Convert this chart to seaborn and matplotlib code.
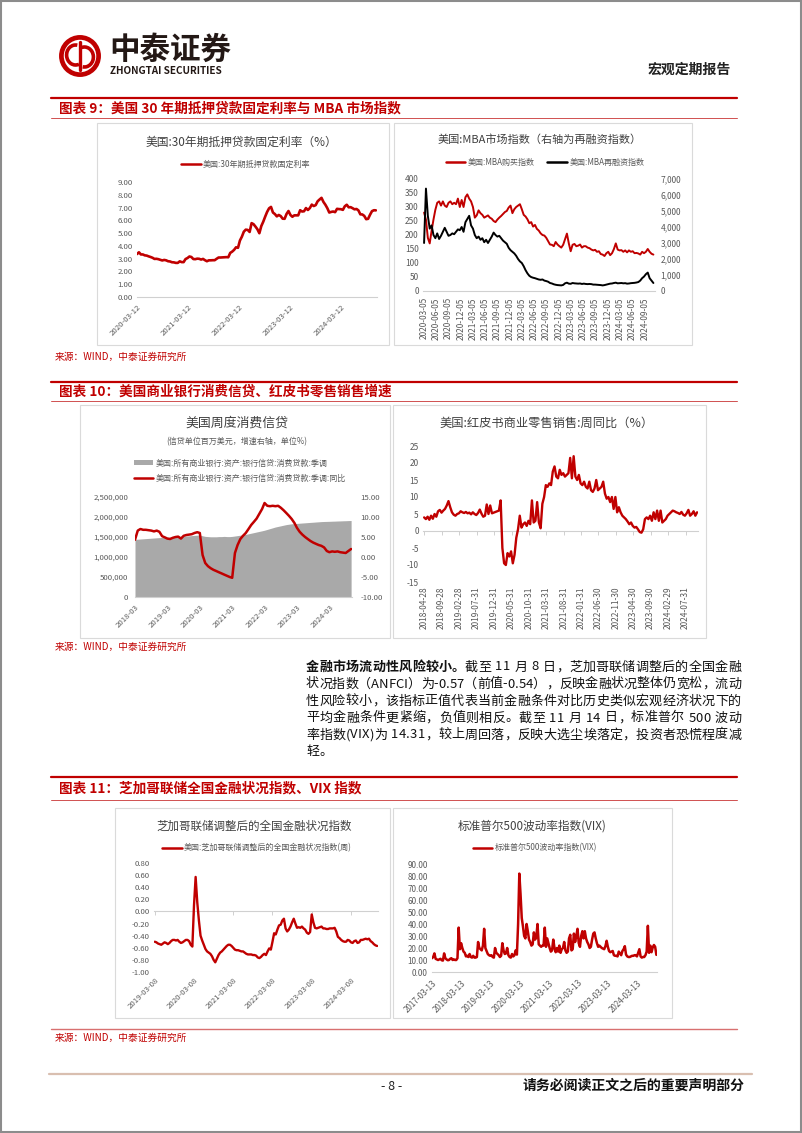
import numpy as np
import pandas as pd
import matplotlib
matplotlib.use("Agg")
import matplotlib.pyplot as plt
import seaborn as sns
from matplotlib.patches import Rectangle, Circle, Arc, Patch
from matplotlib.lines import Line2D
from matplotlib.ticker import FuncFormatter

# ---------------- data ----------------
# Chart 9a: US 30y fixed mortgage rate (biweekly, 2020-03-12 .. 2024-11-14)
mort_rate = [
    3.36, 3.50, 3.33, 3.33, 3.26, 3.24, 3.18, 3.13, 3.07, 2.98, 2.99, 2.96, 2.91, 2.86, 2.90, 2.87, 2.80, 2.78, 2.72, 2.71, 2.67, 2.67,
    2.79, 2.73, 2.73, 2.97, 3.05, 3.17, 3.13, 2.97, 2.96, 3.00, 2.99, 2.93, 2.98, 2.88, 2.80, 2.87, 2.87, 2.88, 2.88, 2.99, 3.09, 3.09, 3.10, 3.11, 3.12, 3.11,
    3.45, 3.55, 3.69, 3.89, 3.85, 4.42, 4.72, 5.11, 5.27, 5.25, 5.09, 5.78, 5.70, 5.51, 5.30, 4.99, 5.55, 5.89, 6.29, 6.66, 6.94, 7.05, 6.61, 6.49, 6.31, 6.42,
    6.33, 6.13, 6.12, 6.50, 6.73, 6.42, 6.28, 6.39, 6.39, 6.39, 6.79, 6.69, 6.71, 6.96, 6.81, 6.96, 7.23, 7.12, 7.19, 7.49, 7.63, 7.76, 7.44, 7.22, 6.95, 6.61,
    6.66, 6.69, 6.64, 6.90, 6.88, 6.87, 6.82, 7.10, 7.22, 7.02, 7.03, 6.95, 6.86, 6.89, 6.78, 6.47, 6.46, 6.35, 6.09, 6.12, 6.44, 6.72, 6.79, 6.78,
]
mort_ticks = ["2020-03-12", "2021-03-12", "2022-03-12", "2023-03-12", "2024-03-12"]

# Chart 9b: MBA purchase (left) / refinance (right), biweekly 2020-03-06 .. 2024-11-08
mba_purchase = [
    280, 255, 190, 170, 215, 255, 290, 315, 320, 305, 320, 305, 300, 315, 320, 310, 315, 310, 330, 300, 325, 300,
    335, 345, 330, 320, 300, 262, 270, 288, 278, 272, 262, 266, 270, 262, 258, 250, 246, 255, 262, 268, 275, 282, 286, 298, 305, 278,
    292, 300, 305, 310, 292, 272, 266, 256, 242, 246, 230, 236, 222, 216, 206, 200, 198, 190, 178, 166, 165, 160, 175, 166, 160, 155,
    165, 185, 205, 170, 142, 165, 168, 160, 162, 166, 155, 160, 160, 155, 153, 148, 145, 147, 140, 142, 132, 130, 125, 135, 140, 128,
    135, 150, 170, 148, 145, 146, 140, 145, 138, 145, 140, 142, 135, 136, 134, 130, 140, 135, 140, 150, 140, 133, 130,
]
mba_refi = [
    3000, 6400, 4700, 3900, 4100, 3500, 3300, 3600, 3250, 3450, 3700, 3950, 3700, 3450, 3500, 3600, 3550, 3700, 3850, 3800, 4000, 3700,
    4300, 4500, 4700, 4100, 3900, 3500, 3300, 3400, 3200, 3300, 3050, 3200, 3000, 3200, 3400, 3650, 3500, 3400, 3450, 3300, 3150, 3050, 2950, 2700, 2550, 2450,
    2350, 2200, 2000, 1850, 1750, 1550, 1300, 1100, 950, 870, 830, 800, 760, 720, 700, 720, 650, 620, 580, 500, 470, 420, 390, 370, 360, 350,
    380, 480, 520, 460, 450, 500, 480, 470, 460, 470, 440, 460, 440, 430, 440, 430, 400, 400, 390, 380, 370, 350, 370, 400, 430, 460,
    470, 500, 520, 480, 490, 500, 480, 490, 460, 470, 490, 500, 510, 530, 560, 650, 800, 900, 1050, 1150, 800, 650, 500,
]
mba_ticks = ["2020-03-05", "2020-06-05", "2020-09-05", "2020-12-05", "2021-03-05", "2021-06-05", "2021-09-05",
             "2021-12-05", "2022-03-05", "2022-06-05", "2022-09-05", "2022-12-05", "2023-03-05", "2023-06-05",
             "2023-09-05", "2023-12-05", "2024-03-05", "2024-06-05", "2024-09-05"]

# Chart 10a: weekly consumer credit (monthly samples 2018-03 .. 2024-11)
credit_level = [
    1440000, 1445000, 1450000, 1455000, 1460000, 1465000, 1470000, 1475000, 1480000, 1485000,
    1488000, 1490000, 1492000, 1495000, 1500000, 1505000, 1510000, 1515000, 1520000, 1525000, 1530000, 1535000,
    1540000, 1545000, 1550000, 1530000, 1515000, 1510000, 1505000, 1505000, 1505000, 1510000, 1510000, 1515000,
    1510000, 1510000, 1515000, 1525000, 1535000, 1545000, 1555000, 1565000, 1580000, 1595000, 1610000, 1625000,
    1640000, 1655000, 1670000, 1690000, 1710000, 1730000, 1750000, 1765000, 1780000, 1795000, 1810000, 1820000,
    1830000, 1835000, 1840000, 1845000, 1850000, 1855000, 1860000, 1865000, 1870000, 1875000, 1880000, 1885000,
    1888000, 1890000, 1892000, 1895000, 1897000, 1900000, 1902000, 1905000, 1907000, 1910000, 1912000,
]
credit_yoy = [
    4.3, 6.6, 7.0, 6.8, 6.8, 6.7, 6.6, 6.4, 6.6, 6.3,
    5.2, 4.9, 4.6, 4.5, 4.8, 5.0, 5.1, 4.6, 5.3, 5.5, 5.6, 5.7,
    6.0, 6.2, 6.0, 0.5, -1.5, -2.3, -2.8, -3.2, -3.5, -3.8, -4.1, -4.4,
    -4.7, -5.0, -5.2, 1.0, 3.0, 4.5, 5.3, 6.0, 7.0, 8.0, 8.8, 9.6,
    10.8, 12.0, 13.5, 12.8, 12.7, 12.8, 12.7, 12.8, 12.3, 11.7, 11.0, 10.3,
    9.5, 8.5, 7.3, 6.3, 5.6, 5.0, 4.5, 4.0, 3.6, 3.3, 3.0, 2.8,
    2.4, 1.5, 1.2, 1.4, 1.3, 1.4, 1.2, 1.1, 1.0, 1.5, 2.0,
]
credit_ticks = ["2018-03", "2019-03", "2020-03", "2021-03", "2022-03", "2023-03", "2024-03"]

# Chart 10b: Redbook same-store sales YoY (semi-monthly 2018-04-28 .. 2024-11-09)
redbook = [
    4.0, 3.5, 4.2, 3.3, 4.5, 3.6, 5.0, 4.2, 5.8, 6.2, 5.4, 6.0, 6.5, 7.5, 8.8, 7.0,
    5.5, 4.8, 4.5, 5.0, 5.2, 5.8, 5.5, 5.3, 5.6, 5.2, 5.4, 4.9, 5.5, 5.0, 4.7, 5.3, 6.3, 5.1, 4.2, 4.5, 7.8, 5.0, 7.5, 5.2,
    5.4, 5.6, 5.8, 6.0, 9.0, -5.0, -9.5, -10.0, -6.5, -7.5, -6.0, -9.5, -7.0, -2.0, 0.5, 4.5, 1.0, 2.0, 2.5, 1.5, 3.0, 2.0, 9.0, 2.5,
    3.0, 8.5, 2.5, 0.8, 8.0, 10.0, 13.5, 13.0, 14.0, 13.5, 17.5, 19.0, 16.0, 15.5, 18.0, 16.5, 17.0, 16.0, 16.5, 17.0, 21.5, 15.5, 22.0, 16.0,
    15.0, 16.5, 14.0, 13.5, 14.5, 13.0, 12.5, 14.5, 12.0, 11.5, 12.5, 15.0, 12.0, 12.5, 13.0, 14.5, 11.0, 9.5, 10.0, 8.5, 10.0, 6.5, 10.0, 5.5,
    7.0, 5.5, 4.5, 4.0, 3.5, 2.8, 2.0, 2.5, 1.5, 1.0, 1.2, 0.5, -0.3, -0.5, 0.5, 3.5, 4.0, 3.5, 4.5, 3.0, 5.5, 3.5, 6.0, 3.0,
    6.0, 2.5, 3.0, 3.5, 4.5, 5.0, 5.5, 6.0, 5.8, 5.5, 5.3, 5.0, 5.6, 4.8, 4.5, 5.2, 6.2, 4.5, 5.0, 5.8, 4.5, 5.5,
]
redbook_ticks = ["2018-04-28", "2018-09-28", "2019-02-28", "2019-07-31", "2019-12-31", "2020-05-31", "2020-10-31",
                 "2021-03-31", "2021-08-31", "2022-01-31", "2022-06-30", "2022-11-30", "2023-04-30", "2023-09-30",
                 "2024-02-29", "2024-07-31"]

# Chart 11a: ANFCI (semi-monthly 2019-03-08 .. 2024-11-08)
anfci = [
    -0.50, -0.51, -0.53, -0.54, -0.55, -0.53, -0.51, -0.52, -0.54, -0.52, -0.49, -0.47, -0.47, -0.48, -0.47, -0.50, -0.52, -0.51, -0.49, -0.47,
    -0.47, -0.49, -0.55, -0.58, 0.10, 0.57, 0.15, -0.15, -0.40, -0.48, -0.55, -0.62, -0.66, -0.68, -0.70, -0.74, -0.80, -0.84, -0.78, -0.72, -0.68, -0.66, -0.63, -0.60,
    -0.57, -0.55, -0.55, -0.57, -0.60, -0.63, -0.64, -0.64, -0.65, -0.66, -0.66, -0.68, -0.70, -0.71, -0.71, -0.71, -0.72, -0.72, -0.73, -0.76, -0.77, -0.75, -0.72, -0.70,
    -0.72, -0.66, -0.61, -0.63, -0.50, -0.36, -0.38, -0.30, -0.23, -0.22, -0.15, -0.12, -0.28, -0.33, -0.30, -0.25, -0.18, -0.12, -0.20, -0.27, -0.26, -0.27, -0.25, -0.28,
    -0.30, -0.35, -0.37, -0.34, -0.05, -0.18, -0.27, -0.28, -0.27, -0.26, -0.25, -0.28, -0.28, -0.29, -0.29, -0.28, -0.28, -0.28, -0.27, -0.33, -0.42, -0.44, -0.47, -0.49,
    -0.50, -0.50, -0.47, -0.48, -0.51, -0.52, -0.49, -0.48, -0.52, -0.51, -0.47, -0.47, -0.46, -0.45, -0.46, -0.45, -0.49, -0.51, -0.54, -0.56, -0.57,
]
anfci_ticks = ["2019-03-08", "2020-03-08", "2021-03-08", "2022-03-08", "2023-03-08", "2024-03-08"]

# Chart 11b: VIX (semi-monthly 2017-03-13 .. 2024-11-14)
vix = [
    11.5, 12.5, 15.5, 11.0, 10.5, 10.0, 10.5, 11.0, 9.8, 9.5, 15.5, 11.5, 10.5, 9.8, 10.0, 11.0, 11.5, 10.0, 10.5, 10.0,
    10.0, 11.5, 37.0, 19.0, 24.0, 20.0, 17.0, 16.0, 13.0, 13.5, 12.5, 15.0, 12.5, 12.0, 13.5, 12.0, 12.0, 12.5, 25.0, 20.0, 19.0, 18.0, 22.0, 36.0,
    20.0, 17.5, 15.0, 14.0, 13.5, 14.0, 12.5, 12.0, 20.0, 16.0, 15.0, 14.0, 12.5, 13.5, 24.0, 18.0, 15.0, 15.5, 20.0, 14.0, 12.5, 12.0, 15.0, 13.0,
    14.0, 18.0, 14.5, 40.0, 82.0, 65.0, 45.0, 38.0, 30.0, 28.0, 40.0, 34.0, 27.0, 25.0, 22.0, 23.0, 33.0, 27.0, 29.0, 40.0, 23.0, 22.0, 21.0, 22.0,
    22.0, 37.0, 21.0, 28.0, 24.0, 20.0, 17.0, 18.0, 27.0, 20.0, 16.5, 20.0, 17.0, 22.0, 16.0, 19.0, 20.0, 25.0, 18.0, 16.0, 17.0, 28.0, 31.0, 18.0,
    19.0, 32.0, 25.0, 30.0, 36.0, 24.0, 21.0, 30.0, 34.0, 28.0, 34.0, 28.0, 25.0, 23.0, 20.0, 21.0, 27.0, 32.0, 33.0, 28.0, 24.0, 21.0, 22.0, 21.0,
    20.0, 19.5, 19.0, 21.5, 26.0, 21.0, 17.5, 16.5, 17.0, 17.5, 14.0, 13.5, 13.5, 13.0, 17.0, 15.5, 14.0, 17.5, 19.0, 21.5, 14.5, 13.0, 12.5, 12.5,
    13.0, 13.5, 13.5, 14.0, 14.0, 13.0, 16.0, 19.0, 13.0, 12.0, 12.5, 12.5, 14.0, 17.0, 38.5, 16.0, 22.0, 16.5, 20.5, 22.5, 21.0, 14.3,
]
vix_ticks = ["2017-03-13", "2018-03-13", "2019-03-13", "2020-03-13", "2021-03-13", "2022-03-13", "2023-03-13", "2024-03-13"]

para_lines = [
    "金融市场流动性风险较小。截至 11 月 8 日，芝加哥联储调整后的全国金融",
    "状况指数（ANFCI）为-0.57（前值-0.54），反映金融状况整体仍宽松，流动",
    "性风险较小，该指标正值代表当前金融条件对比历史类似宏观经济状况下的",
    "平均金融条件更紧缩，负值则相反。截至 11 月 14 日，标准普尔 500 波动",
    "率指数(VIX)为 14.31，较上周回落，反映大选尘埃落定，投资者恐慌程度减",
    "轻。",
]

# ---------------- style ----------------
sns.set_theme(style="white")
plt.rcParams["font.family"] = ["Noto Sans CJK SC", "DejaVu Sans"]
plt.rcParams["axes.unicode_minus"] = False

RED = "#C00000"
GRAYAREA = "#A9A9A9"
AXLINE = "#D0D0D0"
TICK = "#595959"
TITLE = "#404040"

W, H = 802, 1133
fig = plt.figure(figsize=(W / 100, H / 100), dpi=100)
fig.patch.set_facecolor("white")


def fx(x):
    return x / W


def fy(y):
    return 1 - y / H


def add_ax(x0, y0, x1, y1):
    return fig.add_axes([fx(x0), fy(y1), (x1 - x0) / W, (y1 - y0) / H])


def hline(y, x0, x1, color, lw):
    fig.add_artist(Line2D([fx(x0), fx(x1)], [fy(y), fy(y)], transform=fig.transFigure, color=color, lw=lw))


def panel(x0, y0, x1, y1):
    fig.add_artist(Rectangle((fx(x0), fy(y1)), (x1 - x0) / W, (y1 - y0) / H, transform=fig.transFigure,
                             fill=False, ec="#DADADA", lw=0.8))


def ftext(x, y, s, **kw):
    return fig.text(fx(x), fy(y), s, **kw)


def style_ax(ax, size):
    for s in ["top", "right", "left"]:
        ax.spines[s].set_visible(False)
    ax.spines["bottom"].set_color(AXLINE)
    ax.spines["bottom"].set_linewidth(0.8)
    ax.tick_params(axis="y", length=0, labelsize=size, labelcolor=TICK, pad=3)
    ax.tick_params(axis="x", length=3, width=0.7, color=AXLINE, labelsize=size, labelcolor=TICK, pad=1.5)
    ax.set_facecolor("none")
    ax.set_xlabel("")
    ax.set_ylabel("")
    ax.grid(False)


def zero_axis(ax, ticks, frac):
    """Axis line with tick marks at y = 0 while the labels stay at the bottom."""
    ax.spines["bottom"].set_visible(False)
    ax.tick_params(axis="x", length=0, pad=3)
    sec = ax.secondary_xaxis(frac)
    sec.set_xticks(ticks)
    sec.tick_params(axis="x", labelbottom=False, labeltop=False, length=3, width=0.7, color=AXLINE,
                    direction="in" if frac > 0.5 else "out")
    for sp in sec.spines.values():
        sp.set_color(AXLINE)
        sp.set_linewidth(0.8)


def legend(ax, handles, labels, cx, cy, ncol=1, size=5.8, spacing=0.5):
    ax.legend(handles, labels, loc="center", bbox_to_anchor=(fx(cx), fy(cy)), bbox_transform=fig.transFigure,
              frameon=False, fontsize=size, handlelength=2.4, handletextpad=0.3, labelcolor=TICK, ncol=ncol,
              columnspacing=1.6, borderpad=0, labelspacing=spacing)


def _clean(v):
    return 0.0 if abs(v) < 1e-9 else v


fmt2 = FuncFormatter(lambda v, p: f"{_clean(v):.2f}")
fmt0 = FuncFormatter(lambda v, p: f"{_clean(v):.0f}")
fmtc = FuncFormatter(lambda v, p: f"{_clean(v):,.0f}")

# ---------------- page frame & header ----------------
fig.add_artist(Rectangle((0.0008, 0.0008), 0.9984, 0.9984, transform=fig.transFigure, fill=False, ec="#8C8C8C", lw=1.5))

lax = add_ax(58, 34, 102, 78)
lax.set_xlim(-1.1, 1.1)
lax.set_ylim(-1.1, 1.1)
lax.set_aspect("equal")
lax.axis("off")
lax.add_patch(Circle((0, 0), 0.93, fill=False, ec=RED, lw=3.4))
lax.add_patch(Arc((-0.22, 0.05), 0.9, 1.0, theta1=80, theta2=290, ec=RED, lw=2.6))
lax.add_patch(Arc((0.22, -0.05), 0.9, 1.0, theta1=260, theta2=110, ec=RED, lw=2.6))
lax.add_line(Line2D([0, 0], [-0.72, 0.72], color=RED, lw=2.4))

ftext(109, 50, "中泰证券", fontsize=22, fontweight="bold", color="#231815", va="center", ha="left")
ftext(110, 71, "ZHONGTAI SECURITIES", fontsize=7.2, fontweight="bold", color="#231815", va="center", ha="left")
ftext(731, 70, "宏观定期报告", fontsize=10, fontweight="bold", color="#222222", va="center", ha="right")

# ---------------- section headers ----------------
sections = [
    (98, 108, 118, "图表 9：美国 30 年期抵押贷款固定利率与 MBA 市场指数"),
    (382, 392, 401, "图表 10：美国商业银行消费信贷、红皮书零售销售增速"),
    (777, 788, 800, "图表 11：芝加哥联储全国金融状况指数、VIX 指数"),
]
for yl, yt, yth, title in sections:
    hline(yl, 51, 737, RED, 1.6)
    ftext(59, yt, title, fontsize=9.8, fontweight="bold", color=RED, va="center", ha="left")
    hline(yth, 51, 737, "#D05050", 0.7)

src = "来源：WIND，中泰证券研究所"
ftext(55, 357, src, fontsize=7, color=RED, va="center", ha="left")
ftext(55, 647, src, fontsize=7, color=RED, va="center", ha="left")
hline(1029, 51, 737, "#D87070", 1.0)
ftext(55, 1038, src, fontsize=7, color=RED, va="center", ha="left")

hline(1074, 49, 752, "#D9BFB0", 1.6)
ftext(392, 1086, "- 8 -", fontsize=9, color="#222222", va="center", ha="center")
ftext(745, 1086, "请务必阅读正文之后的重要声明部分", fontsize=10, fontweight="bold", color="#111111", va="center", ha="right")

# ---------------- panels ----------------
panel(97, 123, 389, 345)
panel(394, 123, 692, 345)
panel(80, 405, 390, 638)
panel(393, 405, 706, 638)
panel(115, 808, 390, 1018)
panel(393, 808, 672, 1018)

# ---------------- chart 9a ----------------
ax1 = add_ax(137, 182, 377, 297)
d1 = pd.date_range("2020-03-12", "2024-11-14", periods=len(mort_rate))
sns.lineplot(x=d1, y=mort_rate, ax=ax1, color=RED, linewidth=1.9)
ax1.set_ylim(0, 9)
ax1.set_yticks(np.arange(0, 9.01, 1))
ax1.yaxis.set_major_formatter(fmt2)
ax1.set_xlim(d1[0], d1[-1] + pd.Timedelta(days=8))
ax1.set_xticks(pd.to_datetime(mort_ticks))
ax1.set_xticklabels(mort_ticks, rotation=45, ha="right", rotation_mode="anchor")
style_ax(ax1, 5.6)
ftext(241, 142, "美国:30年期抵押贷款固定利率（%）", fontsize=8.5, color=TITLE, ha="center", va="center")
legend(ax1, [Line2D([], [], color=RED, lw=1.8)], ["美国:30年期抵押贷款固定利率"], 246, 164)

# ---------------- chart 9b ----------------
ax2 = add_ax(423, 179, 655, 291)
d2 = pd.date_range("2020-03-06", "2024-11-08", periods=len(mba_purchase))
d2r = pd.date_range("2020-03-06", "2024-11-08", periods=len(mba_refi))
sns.lineplot(x=d2, y=mba_purchase, ax=ax2, color=RED, linewidth=1.4)
ax2.set_ylim(0, 400)
ax2.set_yticks(np.arange(0, 401, 50))
ax2.yaxis.set_major_formatter(fmt0)
ax2r = ax2.twinx()
sns.lineplot(x=d2r, y=mba_refi, ax=ax2r, color="black", linewidth=1.4)
ax2r.set_ylim(0, 7000)
ax2r.set_yticks(np.arange(0, 7001, 1000))
ax2r.yaxis.set_major_formatter(fmtc)
for a in (ax2, ax2r):
    style_ax(a, 6)
    a.set_xlim(pd.Timestamp("2020-02-27"), pd.Timestamp("2024-11-20"))
ax2r.spines["bottom"].set_visible(False)
ax2r.tick_params(axis="y", pad=4)
ax2.set_xticks(pd.to_datetime(mba_ticks))
ax2.set_xticklabels(mba_ticks, rotation=90, ha="center", va="top")
ftext(540, 140, "美国:MBA市场指数（右轴为再融资指数）", fontsize=8, color=TITLE, ha="center", va="center")
legend(ax2r, [Line2D([], [], color=RED, lw=1.8), Line2D([], [], color="black", lw=1.8)],
       ["美国:MBA购买指数", "美国:MBA再融资指数"], 545, 162, ncol=2)

# ---------------- chart 10a ----------------
ax3 = add_ax(135, 497, 352, 597)
d3 = pd.date_range("2018-03-01", periods=len(credit_level), freq="MS")
ax3.fill_between(d3, credit_level, color=GRAYAREA, lw=0)
ax3.set_ylim(0, 2500000)
ax3.set_yticks(np.arange(0, 2500001, 500000))
ax3.yaxis.set_major_formatter(fmtc)
ax3r = ax3.twinx()
d3y = pd.date_range("2018-03-01", periods=len(credit_yoy), freq="MS")
sns.lineplot(x=d3y, y=credit_yoy, ax=ax3r, color=RED, linewidth=1.8)
ax3r.set_ylim(-10, 15)
ax3r.set_yticks(np.arange(-10, 15.01, 5))
ax3r.yaxis.set_major_formatter(fmt2)
for a in (ax3, ax3r):
    style_ax(a, 5.6)
    a.set_xlim(d3[0], d3[-1] + pd.Timedelta(days=10))
ax3r.spines["bottom"].set_visible(False)
ax3r.tick_params(axis="y", pad=6)
ax3.tick_params(axis="y", pad=5)
ax3.set_xticks(pd.to_datetime(credit_ticks, format="%Y-%m"))
ax3.set_xticklabels(credit_ticks, rotation=45, ha="right", rotation_mode="anchor")
ftext(237, 423, "美国周度消费信贷", fontsize=9.3, color=TITLE, ha="center", va="center")
ftext(237, 442, "(信贷单位百万美元，增速右轴，单位%)", fontsize=5.8, color=TICK, ha="center", va="center")
legend(ax3r, [Patch(facecolor=GRAYAREA, edgecolor="none"), Line2D([], [], color=RED, lw=1.8)],
       ["美国:所有商业银行:资产:银行信贷:消费贷款:季调", "美国:所有商业银行:资产:银行信贷:消费贷款:季调:同比"],
       240, 470.5, size=5.8, spacing=0.75)

# ---------------- chart 10b ----------------
ax4 = add_ax(423, 446, 698, 582)
d4 = pd.date_range("2018-04-28", "2024-11-09", periods=len(redbook))
sns.lineplot(x=d4, y=redbook, ax=ax4, color=RED, linewidth=1.7)
ax4.set_ylim(-15, 25)
ax4.set_yticks(np.arange(-15, 25.01, 5))
ax4.yaxis.set_major_formatter(fmt0)
ax4.set_xlim(pd.Timestamp("2018-04-18"), d4[-1] + pd.Timedelta(days=8))
rb_ticks = pd.to_datetime(redbook_ticks)
ax4.set_xticks(rb_ticks)
ax4.set_xticklabels(redbook_ticks, rotation=90, ha="center", va="top")
style_ax(ax4, 6)
zero_axis(ax4, rb_ticks, 15 / 40)
ftext(547, 423, "美国:红皮书商业零售销售:周同比（%）", fontsize=8.8, color=TITLE, ha="center", va="center")

# ---------------- chart 11a ----------------
ax5 = add_ax(154, 863, 378, 972)
d5 = pd.date_range("2019-03-08", "2024-11-08", periods=len(anfci))
sns.lineplot(x=d5, y=anfci, ax=ax5, color=RED, linewidth=1.7)
ax5.set_ylim(-1.0, 0.8)
ax5.set_yticks(np.arange(-1.0, 0.801, 0.2))
ax5.yaxis.set_major_formatter(fmt2)
ax5.set_xlim(pd.Timestamp("2019-03-01"), d5[-1] + pd.Timedelta(days=8))
an_ticks = pd.to_datetime(anfci_ticks)
ax5.set_xticks(an_ticks)
ax5.set_xticklabels(anfci_ticks, rotation=45, ha="right", rotation_mode="anchor")
style_ax(ax5, 5.6)
zero_axis(ax5, an_ticks, 1.0 / 1.8)
ftext(254, 826, "芝加哥联储调整后的全国金融状况指数", fontsize=8.3, color=TITLE, ha="center", va="center")
legend(ax5, [Line2D([], [], color=RED, lw=1.8)], ["美国:芝加哥联储调整后的全国金融状况指数(周)"], 257, 848)

# ---------------- chart 11b ----------------
ax6 = add_ax(432, 864, 657, 972)
d6 = pd.date_range("2017-03-13", "2024-11-14", periods=len(vix))
sns.lineplot(x=d6, y=vix, ax=ax6, color=RED, linewidth=1.8)
ax6.set_ylim(0, 90)
ax6.set_yticks(np.arange(0, 90.01, 10))
ax6.yaxis.set_major_formatter(fmt2)
ax6.set_xlim(d6[0], d6[-1] + pd.Timedelta(days=8))
ax6.set_xticks(pd.to_datetime(vix_ticks))
ax6.set_xticklabels(vix_ticks, rotation=45, ha="right", rotation_mode="anchor")
style_ax(ax6, 5.8)
ftext(532, 826, "标准普尔500波动率指数(VIX)", fontsize=8.4, color=TITLE, ha="center", va="center")
legend(ax6, [Line2D([], [], color=RED, lw=1.8)], ["标准普尔500波动率指数(VIX)"], 535, 848)

# ---------------- justified paragraph ----------------
renderer = fig.canvas.get_renderer()
PX0, PX1 = 306, 741
PSIZE = 9.4
para_y = [667, 684, 701, 718, 735, 752]
for li, (line, y) in enumerate(zip(para_lines, para_y)):
    bold_n = 12 if li == 0 else 0
    items = []
    for i, ch in enumerate(line):
        if ch == " ":
            items.append((None, 0.28 * PSIZE * 100 / 72))
            continue
        t = ftext(0, y, ch, fontsize=PSIZE, fontweight="bold" if i < bold_n else "normal",
                  color="#111111", va="center", ha="left")
        w = t.get_window_extent(renderer).width
        items.append((t, w))
    total = sum(w for _, w in items)
    last = li == len(para_lines) - 1
    extra = 0 if last else (PX1 - PX0 - total) / (len(items) - 1)
    xcur = PX0
    for t, w in items:
        if t is not None:
            t.set_x(fx(xcur))
        xcur += w + extra

fig.savefig("out.png", dpi=100, facecolor="white")
